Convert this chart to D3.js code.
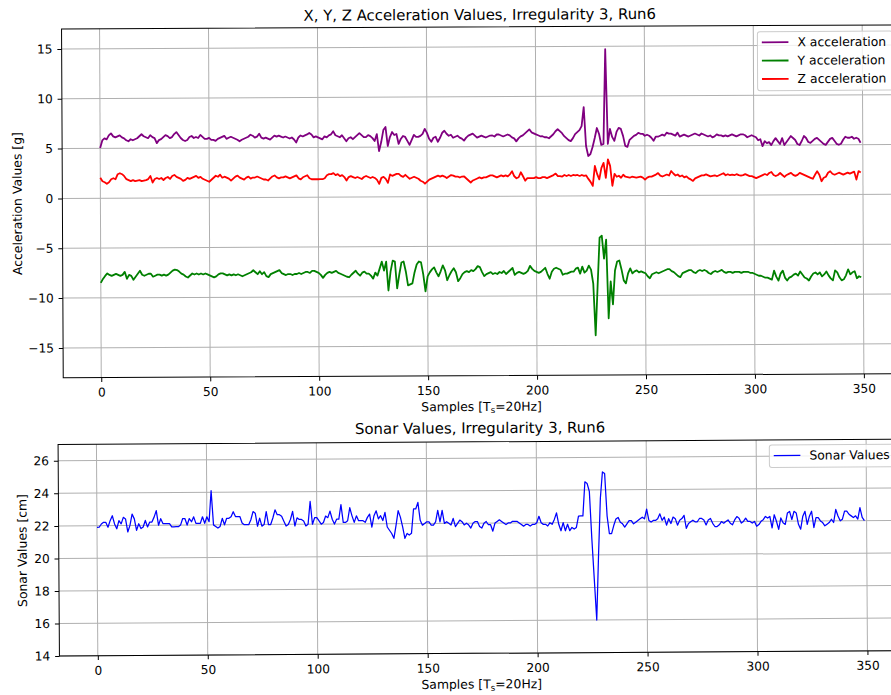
<!DOCTYPE html>
<html>
<head>
<meta charset="utf-8">
<script src="https://cdn.jsdelivr.net/npm/d3@7"></script>
<style>
  body { margin: 0; background: #fff; }
  svg { display: block; }
</style>
</head>
<body>
<div id="chart"></div>
<script>
// Samples 0..349, one value per sample
const xAccel = [
  5.05,5.8,6.0,5.9,6.3,6.5,6.2,6.1,6.2,6.3, 6.1,6.0,5.8,5.7,5.9,5.8,5.9,6.0,6.2,6.4,
  6.2,6.1,6.0,6.3,6.1,6.0,5.5,5.8,5.9,6.1, 6.3,6.2,6.0,6.1,6.4,6.6,6.3,6.0,5.8,5.7,
  5.8,6.1,6.2,6.0,6.1,6.0,6.3,6.1,5.9,5.9, 6.0,5.8,5.8,5.7,5.9,6.0,6.1,6.2,5.9,6.0,
  6.1,6.0,5.9,5.8,5.65,5.8,5.9,6.0,6.1,6.3, 6.2,6.0,6.1,6.4,6.0,5.9,6.0,5.9,5.8,6.0,
  6.2,6.1,6.2,6.1,6.0,6.1,6.0,5.9,6.0,5.8, 5.5,6.0,6.2,6.1,6.2,6.3,6.45,6.3,6.0,6.1,
  6.0,5.9,5.8,6.1,6.0,6.2,6.3,6.6,6.2,6.1, 6.0,6.2,5.9,5.6,5.9,6.0,5.8,6.0,6.2,6.4,
  6.2,6.0,6.0,6.2,6.1,5.9,5.6,6.3,4.6,5.5, 6.7,7.0,5.1,6.0,6.5,6.2,6.3,5.3,5.8,6.1,
  6.0,5.6,5.2,5.7,6.2,6.0,6.0,6.1,6.3,6.8, 6.4,5.8,5.5,5.9,6.0,5.5,5.9,6.4,6.6,6.3,
  6.1,6.2,5.9,6.0,6.1,5.9,5.8,5.6,5.9,6.1, 6.2,6.3,6.1,5.9,6.0,6.1,6.0,5.9,6.0,6.1,
  6.1,6.0,6.2,6.2,6.1,6.0,6.1,6.2,6.1,5.9, 5.8,5.5,5.8,6.0,6.1,6.3,6.5,6.7,6.4,6.3,
  6.2,6.1,6.0,6.0,5.9,5.9,5.8,6.0,6.2,6.5, 6.7,6.5,6.3,6.0,5.8,5.6,5.5,5.8,6.2,6.4,
  6.6,7.0,8.9,5.0,4.0,4.2,4.9,5.8,6.8,6.2, 5.1,5.2,14.7,5.2,6.7,5.9,5.5,6.4,6.8,6.7,
  6.0,5.0,4.9,5.6,5.8,6.0,6.1,6.3,6.2,6.2, 6.0,6.1,6.0,5.8,5.5,5.9,5.9,6.0,6.1,6.0,
  6.3,6.2,6.2,6.1,6.0,6.3,5.9,6.0,6.1,6.0, 5.9,6.0,6.1,6.2,6.1,6.0,6.2,6.1,6.0,5.9,
  6.0,5.8,5.9,6.1,6.0,6.0,5.9,6.0,5.9,6.0, 6.1,6.0,5.9,6.0,6.1,6.1,6.0,5.8,5.9,6.0,
  5.9,5.8,5.5,5.6,4.9,5.4,5.2,5.3,5.0,5.4, 5.7,5.4,5.1,5.7,5.0,5.3,5.6,5.9,5.7,5.5,
  5.1,5.0,5.4,5.9,5.7,5.3,5.2,5.4,5.6,5.7, 5.5,5.3,5.1,5.0,5.3,5.6,5.7,5.4,5.1,5.0,
  5.1,5.5,5.8,5.7,5.7,5.8,5.6,5.7,5.6,5.2
];
const yAccel = [
  -8.5,-8.1,-7.8,-7.55,-7.7,-7.8,-7.7,-7.6,-7.7,-7.8, -7.7,-7.4,-8.1,-7.7,-7.8,-8.2,-7.9,-7.6,-7.3,-7.7,
  -7.8,-7.7,-7.6,-7.6,-7.9,-7.8,-7.7,-7.7,-7.8,-7.7, -7.8,-7.7,-7.5,-7.3,-7.2,-7.25,-7.4,-7.6,-7.7,-7.9,
  -8.0,-7.8,-7.6,-7.7,-7.6,-7.7,-7.6,-7.7,-7.6,-7.7, -7.8,-7.9,-8.0,-7.9,-7.7,-7.6,-7.6,-7.7,-7.8,-7.7,
  -7.8,-7.7,-7.8,-7.7,-7.8,-7.9,-7.8,-7.7,-7.6,-7.5, -7.3,-7.5,-7.7,-7.4,-7.7,-7.5,-7.9,-8.0,-7.7,-7.6,
  -7.5,-7.4,-7.3,-7.6,-7.7,-7.8,-7.7,-7.7,-7.8,-7.7, -7.7,-7.6,-7.7,-7.6,-7.5,-7.5,-7.6,-7.4,-7.4,-7.5,
  -7.6,-7.8,-8.1,-7.8,-7.6,-7.5,-7.6,-7.5,-7.4,-7.6, -7.7,-7.8,-7.9,-8.0,-8.05,-7.8,-7.6,-7.4,-7.7,-7.9,
  -7.6,-7.5,-7.7,-7.7,-7.9,-8.2,-7.6,-7.9,-7.2,-6.5, -7.4,-6.5,-9.4,-7.5,-6.4,-6.5,-9.2,-7.8,-6.6,-6.5,
  -7.5,-8.9,-8.8,-8.7,-7.6,-6.8,-6.5,-6.6,-7.8,-9.5, -8.0,-7.6,-7.3,-7.1,-7.6,-8.0,-7.5,-6.9,-7.4,-8.4,
  -7.9,-7.5,-7.2,-7.6,-8.5,-8.2,-7.8,-7.6,-7.5,-7.6, -7.4,-7.5,-7.3,-7.0,-7.1,-7.6,-8.0,-7.8,-7.7,-7.6,
  -7.8,-7.7,-7.8,-7.6,-7.7,-7.5,-7.8,-7.6,-7.4,-7.2, -7.9,-7.7,-7.6,-7.7,-7.8,-7.7,-7.5,-7.0,-7.3,-7.5,
  -7.6,-7.7,-7.6,-7.4,-7.2,-7.8,-8.3,-7.6,-7.3,-7.2, -7.3,-7.4,-7.9,-7.8,-7.8,-7.7,-7.6,-7.6,-7.3,-7.2,
  -7.8,-7.1,-7.7,-7.5,-7.0,-7.4,-8.8,-14.0,-9.0,-4.2, -4.0,-6.3,-4.4,-12.3,-8.6,-10.9,-7.5,-6.6,-6.5,-7.4,
  -8.5,-8.8,-7.8,-7.3,-7.8,-7.6,-7.5,-7.7,-7.6,-7.7, -7.8,-8.1,-8.3,-7.9,-7.8,-7.7,-7.8,-7.7,-7.6,-7.5,
  -7.4,-7.4,-7.6,-7.7,-7.9,-8.1,-8.2,-7.8,-7.7,-7.6, -7.5,-7.5,-7.7,-7.8,-7.6,-7.5,-7.6,-7.5,-7.6,-7.8,
  -7.9,-7.7,-7.6,-7.7,-7.6,-7.5,-7.7,-7.8,-7.7,-7.7, -7.8,-7.7,-7.7,-7.7,-7.8,-7.7,-7.7,-7.7,-7.8,-7.8,
  -7.9,-8.0,-8.1,-8.1,-8.2,-8.3,-8.3,-8.4,-8.5,-7.6, -8.2,-8.6,-7.9,-7.6,-8.3,-8.6,-8.3,-8.2,-8.0,-7.9,
  -8.1,-7.7,-8.0,-8.3,-8.4,-8.6,-8.2,-7.9,-7.8,-8.0, -7.8,-8.2,-8.0,-7.7,-8.1,-8.4,-8.6,-7.6,-7.8,-8.3,
  -8.6,-8.5,-8.1,-7.5,-8.0,-7.8,-7.7,-8.4,-8.2,-8.3
];
const zAccel = [
  2.05,1.7,1.6,1.45,1.6,1.9,2.0,1.9,2.4,2.5, 2.4,2.2,1.9,1.8,1.7,1.8,1.7,1.75,1.8,1.7,
  1.75,1.8,1.9,2.2,1.55,1.9,2.0,1.9,2.0,1.8, 2.0,2.1,1.9,2.2,2.3,2.1,2.0,1.9,1.7,1.8,
  2.0,1.9,2.0,2.1,2.2,2.0,2.1,1.9,1.8,1.7, 1.6,1.8,2.0,2.2,2.1,2.3,2.0,2.1,2.0,1.9,
  1.7,1.9,2.1,2.2,2.0,1.9,1.8,2.0,2.1,1.9, 2.0,2.0,2.1,2.0,1.9,1.8,1.8,1.7,1.9,2.1,
  2.2,2.0,1.9,2.0,2.0,2.1,2.0,1.9,2.0,2.1, 2.2,1.9,1.8,2.0,2.1,2.2,1.9,1.8,1.8,1.8,
  1.8,1.8,1.8,1.9,2.2,2.3,2.3,2.4,2.2,2.3, 2.1,2.2,2.0,1.65,2.0,2.1,2.0,1.9,2.0,1.9,
  1.8,2.0,2.1,2.0,1.9,2.0,1.9,1.7,1.3,1.9, 2.0,1.8,1.4,2.25,2.1,2.2,2.3,2.3,2.1,2.0,
  2.2,2.0,1.8,1.9,2.0,1.9,1.8,1.6,1.5,1.3, 1.5,1.7,1.8,1.9,2.0,2.1,2.0,2.1,2.0,1.85,
  2.0,2.15,2.1,2.0,2.0,1.9,2.0,2.0,1.8,1.6, 1.4,1.6,1.7,1.8,1.9,1.8,1.9,1.9,2.0,2.1,
  2.1,2.0,1.9,2.0,2.1,2.0,2.1,2.0,2.2,2.5, 2.0,1.8,1.9,2.4,2.0,1.55,1.8,1.8,1.8,1.8,
  1.9,1.8,1.8,1.9,1.9,1.8,1.9,2.0,2.1,2.25, 2.0,2.0,1.95,2.1,2.0,2.1,2.0,2.1,2.05,2.1,
  2.0,2.1,2.0,2.05,1.7,1.4,1.0,3.0,2.2,1.65, 2.8,3.3,1.8,3.65,3.0,1.0,2.2,1.9,2.0,1.8,
  2.1,1.9,1.85,1.8,1.9,1.85,1.8,1.85,1.9,1.8, 1.6,1.8,1.9,1.9,2.0,2.1,2.25,2.0,1.9,2.0,
  2.1,2.0,2.45,2.2,2.0,2.1,1.9,2.0,1.8,1.9, 1.7,1.6,1.45,1.7,1.8,1.9,2.0,2.0,2.1,2.0,
  1.9,1.95,2.0,1.9,2.0,2.1,2.2,2.0,2.1,2.0, 2.05,2.0,2.1,2.0,1.95,2.0,2.1,2.0,1.9,1.9,
  1.8,1.7,1.8,1.9,2.0,2.1,2.0,2.2,2.3,2.0, 1.9,2.0,2.2,2.0,1.8,2.0,2.1,2.2,2.0,1.9,
  2.0,2.2,2.1,2.0,1.9,1.8,1.7,1.6,2.0,2.35, 2.0,1.35,1.7,1.8,2.2,2.35,2.1,2.0,2.1,2.2,
  2.1,2.0,2.1,2.2,2.1,2.2,2.3,1.5,2.35,2.2
];
const sonar = [
  21.9,21.9,22.1,22.2,22.2,21.9,22.3,22.6,22.1,21.8, 22.3,22.1,22.5,22.4,21.6,22.0,22.7,22.4,21.7,22.1,
  21.8,21.9,22.3,21.9,22.2,22.2,22.5,22.9,22.0,22.4, 22.1,22.1,22.1,22.1,21.9,21.9,21.9,21.9,22.0,22.4,
  22.4,22.0,22.4,22.2,22.5,22.1,22.1,22.1,22.5,22.1, 22.5,22.2,24.1,22.0,21.9,21.8,21.9,22.4,22.0,22.4,
  22.4,22.5,22.8,22.5,22.5,22.5,22.1,22.0,22.0,22.0, 22.3,22.8,22.7,21.9,22.4,21.9,22.0,22.8,22.0,22.0,
  22.4,22.9,22.6,22.6,22.5,22.2,21.9,22.0,22.3,22.8, 21.9,22.4,22.3,22.3,22.2,21.9,22.0,23.4,22.0,22.4,
  22.4,22.2,22.0,22.1,22.5,22.4,22.8,22.3,22.0,22.3, 22.3,23.2,22.1,22.1,22.2,23.0,22.5,22.1,22.5,22.2,
  22.2,22.2,22.1,22.4,22.6,21.8,22.5,22.8,22.3,22.5, 22.2,22.7,21.8,21.6,21.4,21.1,21.9,22.8,22.4,21.8,
  21.1,21.4,21.3,21.4,22.9,22.9,23.3,22.2,21.9,22.0, 22.1,22.1,21.9,21.9,22.1,22.8,22.1,22.8,22.0,22.1,
  22.0,21.9,22.3,21.8,22.0,22.2,22.1,21.9,22.0,21.9, 21.7,22.0,22.1,22.1,21.8,21.7,22.0,22.1,21.9,21.9,
  21.5,22.0,22.1,22.2,22.1,22.0,21.9,22.0,22.0,22.1, 22.1,22.1,22.0,21.9,21.8,21.9,21.9,21.8,21.9,21.9,
  22.0,22.4,22.0,21.9,21.9,21.8,22.0,21.9,22.2,22.6, 21.9,21.5,22.0,21.5,21.9,21.5,21.7,21.6,21.7,22.4,
  22.4,22.4,24.5,24.4,23.9,21.0,18.5,16.0,20.0,23.5, 25.1,25.0,22.4,21.3,21.3,21.8,22.2,22.3,22.0,21.9,
  21.7,21.9,22.1,22.1,21.9,22.0,22.1,22.2,22.3,22.2, 22.8,22.1,22.0,22.1,22.1,22.2,22.5,22.1,22.3,21.8,
  22.2,21.9,22.3,22.2,21.8,22.1,22.2,22.4,21.6,21.9, 22.0,22.1,22.0,22.0,22.2,22.2,22.1,21.8,22.1,22.2,
  21.9,21.7,21.7,21.8,22.0,21.9,22.0,22.1,21.9,21.8, 22.1,22.3,22.2,21.9,22.0,22.2,22.0,22.0,21.9,22.0,
  21.7,21.8,22.0,22.1,22.3,22.2,22.3,21.6,22.4,22.0, 21.5,22.2,21.9,21.8,22.5,22.6,22.1,22.6,22.5,21.8,
  21.5,22.3,22.6,21.8,22.3,22.6,21.6,22.2,22.2,22.0, 21.9,21.7,21.8,21.9,22.1,21.9,22.7,22.3,22.0,22.1,
  22.6,22.6,22.4,22.3,22.2,22.3,22.1,22.8,22.2,22.0
];

const sampleTicks = [0, 50, 100, 150, 200, 250, 300, 350];
const accelTicks = [-15, -10, -5, 0, 5, 10, 15];
const sonarTicks = [14, 16, 18, 20, 22, 24, 26];

const width = 891,
  height = 695;
const font = "'DejaVu Sans', 'Liberation Sans', sans-serif";

const svg = d3
  .select("#chart")
  .append("svg")
  .attr("width", width)
  .attr("height", height)
  .style("font-family", font);

// both panels, each slightly tilted like the photo
const panels = [
  {
    id: "accel",
    left: 61.4, right: 897.9, top: 29.3, bottom: 378.1,
    angle: -0.28,
    yDomain: [-18, 17],
    yTicks: accelTicks,
    title: "X, Y, Z Acceleration Values, Irregularity 3, Run6",
    titleY: 22.2,
    yLabel: "Acceleration Values [g]",
    yLabelX: 20.7,
    lineWidth: 1.8,
    legend: { x: 757.2, y: 35.4, w: 135, h: 59 },
    series: [
      { name: "X acceleration", color: "#800080", values: xAccel },
      { name: "Y acceleration", color: "#008000", values: yAccel },
      { name: "Z acceleration", color: "#ff0000", values: zAccel }
    ]
  },
  {
    id: "sonar",
    left: 55.2, right: 899.4, top: 444.9, bottom: 656.4,
    angle: -0.37,
    yDomain: [14, 27],
    yTicks: sonarTicks,
    title: "Sonar Values, Irregularity 3, Run6",
    titleY: 436.3,
    yLabel: "Sonar Values [cm]",
    yLabelX: 23.1,
    lineWidth: 1.25,
    legend: { x: 766.4, y: 450, w: 127, h: 22.5 },
    series: [{ name: "Sonar Values", color: "#0000ff", values: sonar }]
  }
];

panels.forEach(drawPanel);

function drawPanel(p) {
  const g = svg.append("g").attr("transform", `rotate(${p.angle})`);

  const xScale = d3.scaleLinear().domain([-17.45, 366.45]).range([p.left, p.right]);
  const yScale = d3.scaleLinear().domain(p.yDomain).range([p.bottom, p.top]);
  const cx = (p.left + p.right) / 2;

  // Grid
  g.append("g")
    .selectAll("line")
    .data(sampleTicks)
    .join("line")
    .attr("x1", d => xScale(d))
    .attr("x2", d => xScale(d))
    .attr("y1", p.top)
    .attr("y2", p.bottom)
    .attr("stroke", "#b0b0b0")
    .attr("stroke-width", 1);

  g.append("g")
    .selectAll("line")
    .data(p.yTicks)
    .join("line")
    .attr("x1", p.left)
    .attr("x2", p.right)
    .attr("y1", d => yScale(d))
    .attr("y2", d => yScale(d))
    .attr("stroke", "#b0b0b0")
    .attr("stroke-width", 1);

  g.append("clipPath")
    .attr("id", p.id + "-clip")
    .append("rect")
    .attr("x", p.left)
    .attr("y", p.top)
    .attr("width", p.right - p.left)
    .attr("height", p.bottom - p.top);

  const line = d3
    .line()
    .x((d, i) => xScale(i))
    .y(d => yScale(d));

  g.append("g")
    .attr("clip-path", `url(#${p.id}-clip)`)
    .selectAll("path")
    .data(p.series)
    .join("path")
    .attr("d", d => line(d.values))
    .attr("fill", "none")
    .attr("stroke", d => d.color)
    .attr("stroke-width", p.lineWidth)
    .attr("stroke-linejoin", "round");

  // Spines
  g.append("rect")
    .attr("x", p.left)
    .attr("y", p.top)
    .attr("width", p.right - p.left)
    .attr("height", p.bottom - p.top)
    .attr("fill", "none")
    .attr("stroke", "#000")
    .attr("stroke-width", 1);

  // Axes
  const xAxis = d3
    .axisBottom(xScale)
    .tickValues(sampleTicks)
    .tickFormat(d3.format("d"))
    .tickSize(4.3)
    .tickSizeOuter(0)
    .tickPadding(6);

  g.append("g")
    .attr("transform", `translate(0,${p.bottom})`)
    .call(xAxis)
    .call(a => a.select(".domain").remove())
    .attr("font-size", 12.2)
    .attr("font-family", font);

  const yAxis = d3
    .axisLeft(yScale)
    .tickValues(p.yTicks)
    .tickFormat(d3.format("d"))
    .tickSize(4.3)
    .tickSizeOuter(0)
    .tickPadding(4.9);

  g.append("g")
    .attr("transform", `translate(${p.left},0)`)
    .call(yAxis)
    .call(a => a.select(".domain").remove())
    .attr("font-size", 12.2)
    .attr("font-family", font);

  // Title
  g.append("text")
    .attr("x", cx)
    .attr("y", p.titleY)
    .attr("text-anchor", "middle")
    .attr("font-size", 14.9)
    .text(p.title);

  // X Label
  const xl = g
    .append("text")
    .attr("x", cx)
    .attr("y", p.bottom + 35.2)
    .attr("text-anchor", "middle")
    .attr("font-size", 12.4);
  xl.append("tspan").text("Samples [T");
  xl.append("tspan").attr("font-size", 8.7).attr("dy", 2.2).text("s");
  xl.append("tspan").attr("dy", -2.2).text("=20Hz]");

  // Y Label
  g.append("text")
    .attr("transform", `translate(${p.yLabelX},${(p.top + p.bottom) / 2}) rotate(-90)`)
    .attr("text-anchor", "middle")
    .attr("font-size", 12.4)
    .text(p.yLabel);

  // Legend
  const lg = g.append("g");
  lg.append("rect")
    .attr("x", p.legend.x)
    .attr("y", p.legend.y)
    .attr("width", p.legend.w)
    .attr("height", p.legend.h)
    .attr("rx", 2.5)
    .attr("fill", "#fff")
    .attr("fill-opacity", 0.8)
    .attr("stroke", "#cccccc")
    .attr("stroke-width", 1);

  const rows = lg
    .selectAll("g.row")
    .data(p.series)
    .join("g")
    .attr("class", "row")
    .attr("transform", (d, i) => `translate(${p.legend.x},${p.legend.y + 10.6 + i * 18.35})`);

  rows.append("line")
    .attr("x1", 4.4)
    .attr("x2", 31)
    .attr("stroke", d => d.color)
    .attr("stroke-width", p.lineWidth);

  rows.append("text")
    .attr("x", 40)
    .attr("y", 4.2)
    .attr("font-size", 12.4)
    .text(d => d.name);
}
</script>
</body>
</html>
